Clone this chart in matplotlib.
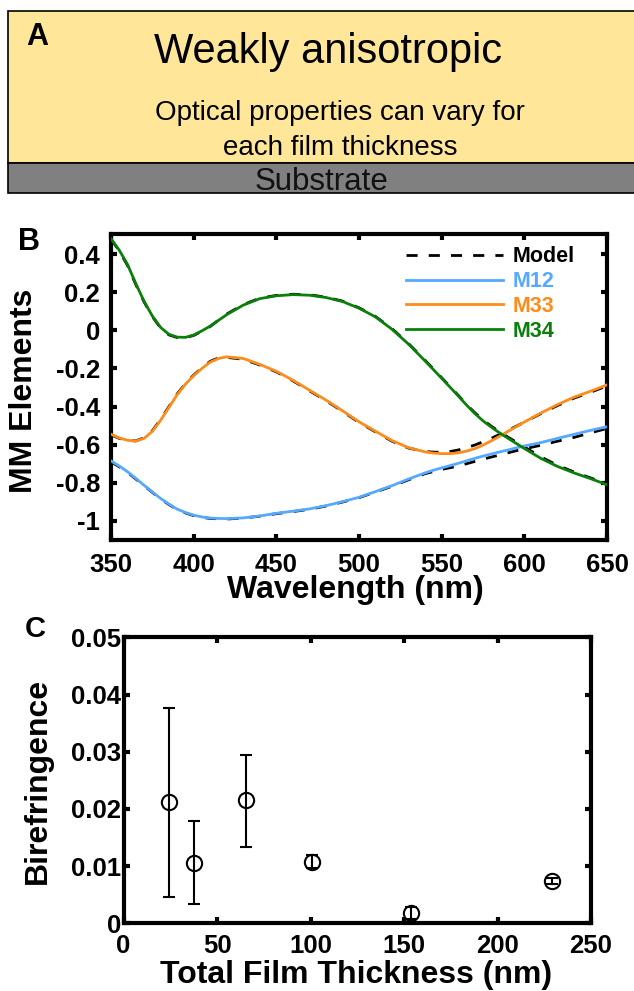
import matplotlib
matplotlib.use("Agg")
import matplotlib.pyplot as plt
from matplotlib.patches import Rectangle

plt.rcParams["font.family"] = ["Liberation Sans", "DejaVu Sans"]
plt.rcParams["font.weight"] = "bold"

# panel B: Mueller matrix elements vs wavelength
wl = [350, 355, 360, 365, 370, 375, 380, 385, 390, 395, 400, 405, 410, 415, 420,
      430, 440, 450, 460, 470, 480, 490, 500, 510, 520, 530, 540,
      545, 550, 555, 560, 565, 570, 575, 580, 585, 590, 595, 600,
      610, 620, 630, 640, 650]
m12 = [-0.685, -0.712, -0.742, -0.777, -0.813, -0.848, -0.882, -0.912, -0.938, -0.956,
       -0.970, -0.979, -0.985, -0.987, -0.988,
       -0.984, -0.974, -0.960, -0.949, -0.937, -0.920, -0.899, -0.876, -0.846, -0.815,
       -0.780, -0.748,
       -0.734, -0.722, -0.710, -0.698, -0.685, -0.672, -0.660, -0.649, -0.638, -0.628,
       -0.617, -0.607,
       -0.589, -0.567, -0.546, -0.525, -0.506]
m33 = [-0.545, -0.565, -0.577, -0.581, -0.567, -0.530, -0.472, -0.405, -0.338, -0.283,
       -0.238, -0.200, -0.167, -0.148, -0.139,
       -0.148, -0.179, -0.215, -0.262, -0.314, -0.366, -0.422, -0.480, -0.530, -0.579,
       -0.616, -0.638,
       -0.644, -0.647, -0.647, -0.643, -0.634, -0.621, -0.602, -0.580, -0.556, -0.531,
       -0.506, -0.481,
       -0.434, -0.390, -0.351, -0.320, -0.286]
m34 = [0.480, 0.420, 0.345, 0.245, 0.152, 0.075, 0.015, -0.021, -0.036, -0.037,
       -0.025, -0.003, 0.022, 0.052, 0.082,
       0.132, 0.166, 0.181, 0.187, 0.184, 0.172, 0.151, 0.116, 0.070, 0.005,
       -0.073, -0.161,
       -0.206, -0.252, -0.298, -0.344, -0.392, -0.436, -0.475, -0.508, -0.538, -0.566,
       -0.593, -0.620,
       -0.672, -0.714, -0.748, -0.778, -0.810]
mod12 = [-0.690, -0.716, -0.745, -0.780, -0.815, -0.850, -0.884, -0.914, -0.940, -0.958,
         -0.972, -0.981, -0.987, -0.989, -0.990,
         -0.985, -0.975, -0.962, -0.951, -0.939, -0.922, -0.901, -0.878, -0.848, -0.818,
         -0.784, -0.752,
         -0.741, -0.730, -0.721, -0.712, -0.700, -0.688, -0.676, -0.665, -0.654, -0.643,
         -0.632, -0.622,
         -0.603, -0.582, -0.562, -0.538, -0.515]
mod33 = [-0.548, -0.567, -0.578, -0.580, -0.564, -0.527, -0.468, -0.401, -0.334, -0.280,
         -0.235, -0.197, -0.163, -0.145, -0.142,
         -0.152, -0.182, -0.218, -0.265, -0.317, -0.369, -0.425, -0.483, -0.533, -0.582,
         -0.618, -0.636,
         -0.639, -0.640, -0.636, -0.628, -0.616, -0.602, -0.585, -0.567, -0.546, -0.525,
         -0.504, -0.482,
         -0.437, -0.395, -0.356, -0.325, -0.292]
mod34 = [0.478, 0.416, 0.340, 0.240, 0.149, 0.072, 0.012, -0.024, -0.038, -0.039,
         -0.027, -0.005, 0.020, 0.053, 0.085,
         0.135, 0.168, 0.183, 0.189, 0.186, 0.174, 0.153, 0.118, 0.072, 0.008,
         -0.070, -0.158,
         -0.203, -0.249, -0.295, -0.341, -0.389, -0.432, -0.470, -0.503, -0.532, -0.560,
         -0.586, -0.612,
         -0.664, -0.708, -0.743, -0.774, -0.806]

# panel C: birefringence vs total film thickness
thick = [24.1, 37.5, 65.4, 100.7, 153.7, 229.2]
biref = [0.0212, 0.0105, 0.0216, 0.0108, 0.0018, 0.0074]
err_lo = [0.0166, 0.0072, 0.0083, 0.0012, 0.0010, 0.0006]
err_hi = [0.0165, 0.0074, 0.0079, 0.0012, 0.0010, 0.0006]

c12 = "#55AAFF"
c33 = "#FF8C1A"
c34 = "#0A800A"

W, H = 634, 991
fig = plt.figure(figsize=(W / 100, H / 100), dpi=100)


def fx(px):
    return px / W


def fy(py):
    return 1 - py / H


# ---- A: layer sketch ----
axa = fig.add_axes([0, fy(200), 1, 200 / H])
axa.set_xlim(0, W)
axa.set_ylim(200, 0)
axa.axis("off")
axa.add_patch(Rectangle((8.3, 10.7), 700, 152.3, facecolor="#FFE699",
                        edgecolor="black", lw=1.2))
axa.add_patch(Rectangle((8.3, 163), 700, 30, facecolor="#808080",
                        edgecolor="black", lw=1.2))
axa.text(26, 45, "A", fontsize=22, fontweight="bold", va="baseline")
axa.text(328, 63, "Weakly anisotropic", fontsize=30, fontweight="normal",
         ha="center", va="baseline")
axa.text(340, 120, "Optical properties can vary for", fontsize=20,
         fontweight="normal", ha="center", va="baseline")
axa.text(340, 155, "each film thickness", fontsize=20,
         fontweight="normal", ha="center", va="baseline")
axa.text(322, 190, "Substrate", fontsize=22.5, fontweight="normal",
         ha="center", va="baseline", color="#111111")


def style(ax):
    for s in ax.spines.values():
        s.set_linewidth(3)
    ax.tick_params(direction="in", top=True, right=True, length=4.5,
                   width=3)


# ---- B: MM elements ----
axb = fig.add_axes([fx(111), fy(540), fx(607 - 111), (540 - 234) / H])
axb.plot(wl, mod12, color="black", lw=2, dashes=(4, 4), label="Model", zorder=2)
axb.plot(wl, mod33, color="black", lw=2, dashes=(4, 4), zorder=2)
axb.plot(wl, mod34, color="black", lw=2, dashes=(4, 4), zorder=2)
axb.plot(wl, m12, color=c12, lw=2, label="M12", zorder=3)
axb.plot(wl, m33, color=c33, lw=2, label="M33", zorder=3)
axb.plot(wl, m34, color=c34, lw=2, label="M34", zorder=3)
axb.set_xlim(350, 650)
axb.set_ylim(-1.1, 0.505)
axb.set_xticks([350, 400, 450, 500, 550, 600, 650])
yt = [-1, -0.8, -0.6, -0.4, -0.2, 0, 0.2, 0.4]
axb.set_yticks(yt)
axb.set_yticklabels([f"{v:g}" for v in yt])
style(axb)
axb.tick_params(axis="both", labelsize=18.5)
axb.tick_params(axis="x", pad=9)
axb.tick_params(axis="y", pad=8)
leg = axb.legend(loc="upper right", bbox_to_anchor=(0.935, 0.96),
                 frameon=False, fontsize=15.5, handlelength=4.5,
                 handletextpad=0.45, labelspacing=0.18, borderpad=0,
                 borderaxespad=0)
for t, c in zip(leg.get_texts(), ["black", c12, c33, c34]):
    t.set_color(c)
fig.text(fx(18), fy(250), "B", fontsize=22, fontweight="bold", va="baseline")
fig.text(fx(24), fy(391), "MM Elements", fontsize=23, fontweight="bold",
         rotation=90, ha="center", va="center")
fig.text(fx(355), fy(598), "Wavelength (nm)", fontsize=23, fontweight="bold",
         ha="center", va="baseline")

# ---- C: birefringence ----
axc = fig.add_axes([fx(123.5), fy(923.3), fx(591 - 123.5), (923.3 - 637.3) / H])
axc.errorbar(thick, biref, yerr=[err_lo, err_hi], fmt="o", mfc="none",
             mec="black", ms=11, mew=1.5, ecolor="black", elinewidth=1.5,
             capsize=4.5, capthick=1.5)
axc.set_xlim(0, 250)
axc.set_ylim(0, 0.05)
axc.set_xticks([0, 50, 100, 150, 200, 250])
ct = [0, 0.01, 0.02, 0.03, 0.04, 0.05]
axc.set_yticks(ct)
axc.set_yticklabels([f"{v:g}" for v in ct])
style(axc)
axc.tick_params(axis="both", labelsize=18.5)
axc.tick_params(axis="x", pad=8)
axc.tick_params(axis="y", pad=1.5)
fig.text(fx(25), fy(637), "C", fontsize=21, fontweight="bold", va="baseline")
fig.text(fx(38), fy(781), "Birefringence", fontsize=23, fontweight="bold",
         rotation=90, ha="center", va="center")
fig.text(fx(356), fy(983), "Total Film Thickness (nm)", fontsize=23,
         fontweight="bold", ha="center", va="baseline")

fig.savefig("out.png", dpi=100)
